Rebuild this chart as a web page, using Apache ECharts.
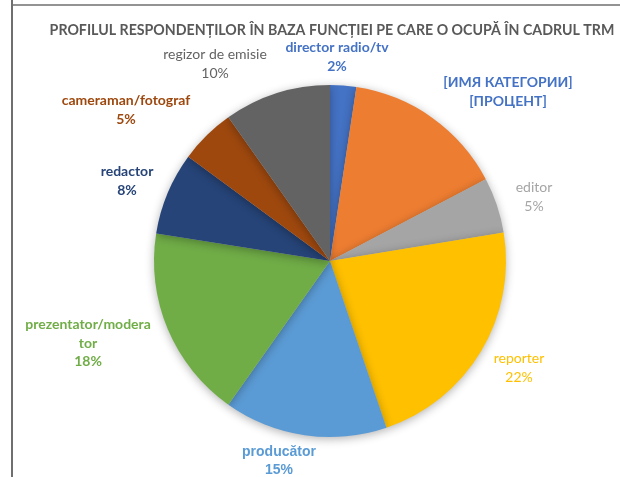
<!DOCTYPE html>
<html><head><meta charset="utf-8">
<script src="https://cdn.jsdelivr.net/npm/echarts@6/dist/echarts.min.js"></script>
<style>html,body{margin:0;padding:0;background:#fff}#c{width:620px;height:477px}</style>
</head><body><div id="c"></div>
<script>
const titleText = 'PROFILUL RESPONDENȚILOR ÎN BAZA FUNCȚIEI PE CARE O OCUPĂ ÎN CADRUL TRM';
const categories = ['director radio/tv','[ИМЯ КАТЕГОРИИ]','editor','reporter','producător','prezentator/moderator','redactor','cameraman/fotograf','regizor de emisie'];
const values = [2.4, 14.9, 5.1, 22.4, 15.0, 17.7, 7.6, 5.1, 9.8];
const labelNames = ['director radio/tv','[ИМЯ КАТЕГОРИИ]','editor','reporter','producător','prezentator/modera\ntor','redactor','cameraman/fotograf','regizor de emisie'];
const labelPercents = ['2%','[ПРОЦЕНТ]','5%','22%','15%','18%','8%','5%','10%'];
const colors = ['#4472C4','#ED7D31','#A5A5A5','#FFC000','#5B9BD5','#70AD47','#264478','#9E480E','#636363'];
const labelColors = ['#4472C4','#4472C4','#A5A5A5','#FFC000','#5B9BD5','#70AD47','#264478','#9E480E','#636363'];
const labelWeights = ['bold','bold','normal','normal','bold','bold','bold','bold','normal'];
const labelPos = [[337,57],[508,92],[534,197],[519,368],[279,461],[88,343],[127,181],[126,110],[215,64]];

const chart = echarts.init(document.getElementById('c'), null, {renderer:'canvas'});
chart.setOption({
  animation:false,
  backgroundColor:'#fff',
  title:{text:titleText,left:327,top:18,textAlign:'center',
    textStyle:{fontFamily:'Lato',fontSize:14.2,fontWeight:'bold',color:'#595959'}},
  graphic:[
    {type:'line',shape:{x1:12,y1:0,x2:12,y2:477},style:{stroke:'#6f6f6f',lineWidth:2}},
    {type:'line',shape:{x1:11,y1:5,x2:620,y2:5},style:{stroke:'#6f6f6f',lineWidth:1.5}}
  ],
  series:[{
    type:'pie',
    center:[330,261],
    radius:176,
    startAngle:90,
    clockwise:true,
    avoidLabelOverlap:false,
    data:categories.map((n,i)=>({name:n,value:values[i],
      itemStyle:{color:colors[i]},
      label:{color:labelColors[i],fontWeight:labelWeights[i],
        fontFamily: i===4 ? 'Liberation Sans' : 'Lato'}})),
    itemStyle:{borderWidth:0,shadowBlur:10,shadowColor:'rgba(0,0,0,0.3)',shadowOffsetY:2},
    label:{show:true,position:'outside',fontSize:14,lineHeight:18.5,align:'center',
      formatter:p=>labelNames[p.dataIndex]+'\n'+labelPercents[p.dataIndex]},
    labelLine:{show:false},
    labelLayout:p=>({x:labelPos[p.dataIndex][0],y:labelPos[p.dataIndex][1],align:'center',verticalAlign:'middle'})
  }]
});
</script></body></html>
